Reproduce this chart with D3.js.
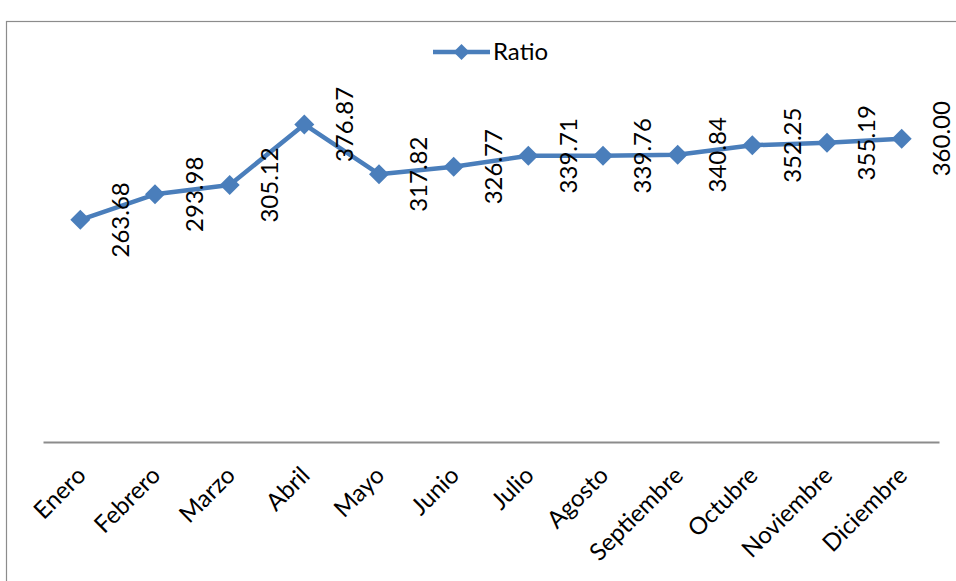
<!DOCTYPE html>
<html>
<head>
<meta charset="utf-8">
<script src="https://cdn.jsdelivr.net/npm/d3@7"></script>
<style>
  html, body { margin: 0; padding: 0; background: #fff; }
  svg { display: block; }
  text { font-family: Lato, "Open Sans", sans-serif; fill: #000; }
</style>
</head>
<body>
<svg id="chart" width="956" height="581"></svg>
<script>
// Monthly ratio values
const months = ["Enero", "Febrero", "Marzo", "Abril", "Mayo", "Junio", "Julio",
                "Agosto", "Septiembre", "Octubre", "Noviembre", "Diciembre"];
const ratio = [263.68, 293.98, 305.12, 376.87, 317.82, 326.77, 339.71,
               339.76, 340.84, 352.25, 355.19, 360.00];
const seriesName = "Ratio";
const yDomain = [0, 400];

const W = 956, H = 581;
const blue = "#4A7EBB";
const svg = d3.select("#chart");

// Outer chart frame (only top and left edges fall inside the view)
svg.append("rect")
  .attr("x", 6.5).attr("y", 21.5)
  .attr("width", W + 20).attr("height", H + 20)
  .attr("fill", "none").attr("stroke", "#8c8c8c").attr("stroke-width", 1.2);

const plot = { left: 43, right: 939, top: 105, bottom: 442 };

const x = d3.scaleBand().domain(months).range([plot.left, plot.right]).padding(0);
const y = d3.scaleLinear().domain(yDomain).range([plot.bottom, plot.top]);
const cx = m => x(m) + x.bandwidth() / 2;

// Category axis
const xAxis = svg.append("g").attr("transform", `translate(0,${plot.bottom})`)
  .call(d3.axisBottom(x).tickSize(0).tickFormat(""));
xAxis.select(".domain").attr("stroke", "#8c8c8c").attr("stroke-width", 2);

svg.append("g").selectAll("text").data(months).join("text")
  .attr("transform", d => `translate(${cx(d) + 1},${plot.bottom + 29}) rotate(-45)`)
  .attr("text-anchor", "end")
  .attr("dy", "0.35em")
  .attr("font-size", 24)
  .text(d => d);

// Series line
const data = months.map((m, i) => ({ m, v: ratio[i] }));
svg.append("path").datum(data)
  .attr("fill", "none").attr("stroke", blue).attr("stroke-width", 4.5)
  .attr("stroke-linejoin", "round")
  .attr("d", d3.line().x(d => cx(d.m)).y(d => y(d.v)));

// Diamond markers (square rotated 45 degrees)
const diamond = r => `M0,${-r}L${r},0L0,${r}L${-r},0Z`;
svg.append("g").selectAll("path").data(data).join("path")
  .attr("transform", d => `translate(${cx(d.m)},${y(d.v)})`)
  .attr("d", diamond(10))
  .attr("fill", blue);

// Vertical value labels to the right of each point
svg.append("g").selectAll("text").data(data).join("text")
  .attr("transform", d => `translate(${cx(d.m) + 40},${y(d.v)}) rotate(-90)`)
  .attr("text-anchor", "middle")
  .attr("dy", "0.35em")
  .attr("font-size", 24)
  .text(d => d.v.toFixed(2));

// Legend
const lg = svg.append("g").attr("transform", "translate(433,52)");
lg.append("line").attr("x1", 0).attr("x2", 57).attr("y1", 0).attr("y2", 0)
  .attr("stroke", blue).attr("stroke-width", 4.5);
lg.append("path").attr("transform", "translate(28.5,0)").attr("d", diamond(8)).attr("fill", blue);
lg.append("text").attr("x", 60).attr("dy", "0.35em").attr("font-size", 24).text(seriesName);
</script>
</body>
</html>
